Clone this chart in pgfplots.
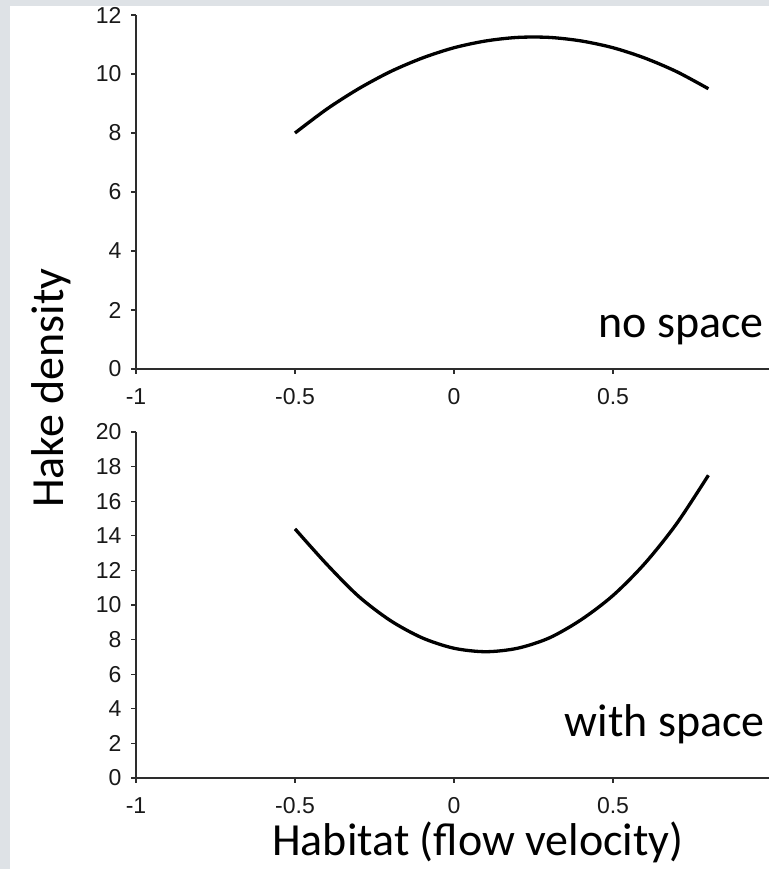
\documentclass[border=0pt]{standalone}
\usepackage{fontspec}
\setmainfont{Carlito}
\newfontfamily\arialf{Liberation Sans}
\usepackage{pgfplots}
\pgfplotsset{compat=1.18}
\definecolor{bggray}{RGB}{222,226,230}
\definecolor{axgray}{RGB}{45,45,45}
\pgfplotsset{hakeaxis/.style={
  scale only axis, width=636bp, anchor=south west,
  xmin=-1, xmax=1,
  axis lines=left, axis line style={-, line width=1.2bp, color=axgray},
  xtick={-1,-0.5,0,0.5,1}, xticklabels={-1,-0.5,0,0.5,{}},
  tick align=outside, major tick length=5bp,
  tick style={line width=1.2bp, color=axgray},
  minor tick num=0,
  ticklabel style={font=\fontsize{23bp}{26bp}\selectfont\arialf, color=black!90},
  /pgf/number format/assume math mode=true,
  xticklabel style={yshift=-11bp},
  yticklabel style={xshift=-6bp},
  clip=false,
}}
\begin{document}
\begin{tikzpicture}
\fill[bggray] (0,0) rectangle (769bp,869bp);
\fill[white] (10bp,0) rectangle (769bp,863bp);

\begin{axis}[hakeaxis, at={(136bp,500bp)}, height=354bp,
  ymin=0, ymax=12, ytick={0,2,4,6,8,10,12}]
\addplot[black, line width=3.3bp, smooth] coordinates {
(-0.5,8.00) (-0.4,8.81) (-0.3,9.50) (-0.2,10.08) (-0.1,10.54) (0,10.89)
(0.1,11.12) (0.2,11.24) (0.3,11.24) (0.4,11.12) (0.5,10.89) (0.6,10.54)
(0.7,10.08) (0.8,9.50)};
\end{axis}

\begin{axis}[hakeaxis, at={(136bp,91bp)}, height=346bp,
  ymin=0, ymax=20, ytick={0,2,4,6,8,10,12,14,16,18,20}]
\addplot[black, line width=3.3bp, smooth] coordinates {
(-0.5,14.4) (-0.4,12.35) (-0.3,10.5) (-0.2,9.1) (-0.1,8.1) (0,7.5)
(0.1,7.3) (0.2,7.5) (0.3,8.1) (0.4,9.15) (0.5,10.55) (0.6,12.4)
(0.7,14.7) (0.8,17.5)};
\end{axis}

\node[rotate=90, anchor=base, font=\fontsize{46bp}{52bp}\selectfont] at (63bp,481bp) {Hake density};
\node[anchor=base east, font=\fontsize{46bp}{52bp}\selectfont, inner sep=0] at (764bp,531bp) {no space};
\node[anchor=base east, font=\fontsize{46bp}{52bp}\selectfont, inner sep=0] at (765bp,132bp) {with space};
\node[anchor=base, font=\fontsize{46bp}{52bp}\selectfont, inner sep=0] at (478bp,14bp) {Habitat (flow velocity)};

\pgfresetboundingbox
\useasboundingbox (0,0) rectangle (769bp,869bp);
\end{tikzpicture}
\end{document}
